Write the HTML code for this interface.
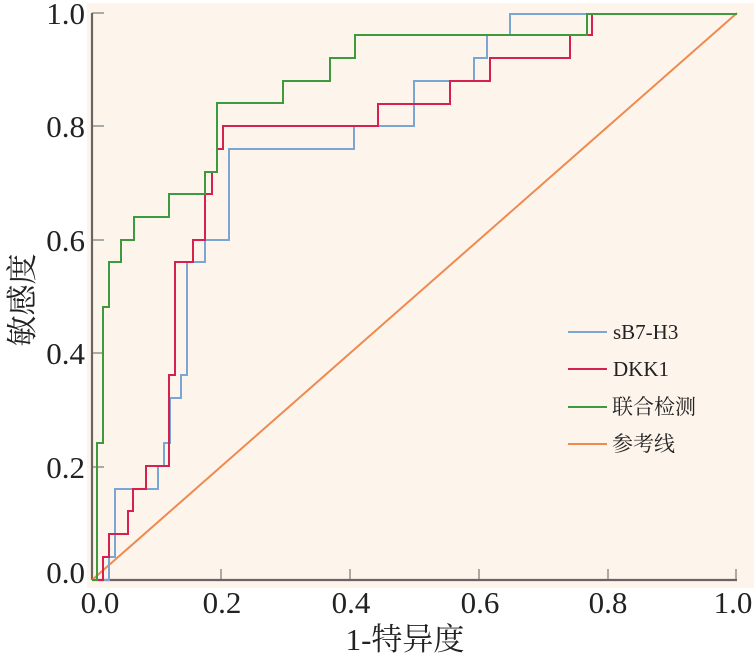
<!DOCTYPE html>
<html><head><meta charset="utf-8"><style>
html,body{margin:0;padding:0;background:#fff;}
svg{display:block;}
text{font-family:"Liberation Serif","Noto Serif CJK SC",serif;fill:#222;}
</style></head><body>
<svg width="754" height="657" viewBox="0 0 754 657" xmlns="http://www.w3.org/2000/svg">
<rect x="87" y="3" width="667" height="585" fill="#fdf4ec"/>
<g stroke="#aaa" stroke-width="2">
<line x1="92" y1="13" x2="104" y2="13"/>
<line x1="92" y1="126" x2="104" y2="126"/>
<line x1="92" y1="240" x2="104" y2="240"/>
<line x1="92" y1="353" x2="104" y2="353"/>
<line x1="92" y1="467" x2="104" y2="467"/>
<line x1="221" y1="569" x2="221" y2="580"/>
<line x1="350" y1="569" x2="350" y2="580"/>
<line x1="479" y1="569" x2="479" y2="580"/>
<line x1="608" y1="569" x2="608" y2="580"/>
<line x1="736" y1="569" x2="736" y2="580"/>
</g>
<g stroke="#6b6461" stroke-width="2.2" fill="none">
<line x1="92" y1="13" x2="92" y2="580"/>
<line x1="92" y1="580" x2="737" y2="580"/>
</g>
<g fill="none" stroke-width="2">
<line x1="92" y1="580" x2="737" y2="13" stroke="#ef8a4e"/>
<path stroke="#7aa6d6" d="M92,580 H109 V557 H115 V489 H158 V466 H164 V443 H170 V398 H181 V375 H187 V262 H205 V240 H229 V149 H354 V126 H414 V81 H474 V58 H487 V35 H510 V14 H737"/>
<path stroke="#d6204e" d="M92,580 H103 V557 H109 V534 H128 V511 H133 V489 H146 V466 H169 V375 H175 V262 H193 V240 H205 V194 H212 V172 H217 V149 H223 V126 H378 V104 H450 V81 H490 V58 H570 V35 H592 V14 H737"/>
<path stroke="#3f9a3f" d="M92,580 H97 V443 H103 V307 H109 V262 H121 V240 H134 V217 H169 V194 H205 V172 H217 V103 H283 V81 H330 V58 H355 V35 H587 V14 H737"/>
</g>
<g font-size="31" text-anchor="end">
<text x="85" y="24">1.0</text>
<text x="85" y="137">0.8</text>
<text x="85" y="251">0.6</text>
<text x="85" y="364">0.4</text>
<text x="85" y="478">0.2</text>
<text x="85" y="583">0.0</text>
</g>
<g font-size="31" text-anchor="middle">
<text x="100" y="613">0.0</text>
<text x="222" y="613">0.2</text>
<text x="351" y="613">0.4</text>
<text x="480" y="613">0.6</text>
<text x="608" y="613">0.8</text>
<text x="733" y="613">1.0</text>
<text x="405" y="650">1-特异度</text>
<text transform="translate(33,300) rotate(-90)">敏感度</text>
</g>
<g stroke-width="2">
<line x1="568" y1="332" x2="607" y2="332" stroke="#7aa6d6"/>
<line x1="568" y1="369" x2="607" y2="369" stroke="#d6204e"/>
<line x1="568" y1="407" x2="607" y2="407" stroke="#3f9a3f"/>
<line x1="568" y1="444" x2="607" y2="444" stroke="#ef8a4e"/>
</g>
<g font-size="21">
<text x="613" y="339">sB7-H3</text>
<text x="613" y="376">DKK1</text>
<text x="612" y="414">联合检测</text>
<text x="612" y="451">参考线</text>
</g>
</svg>
</body></html>
